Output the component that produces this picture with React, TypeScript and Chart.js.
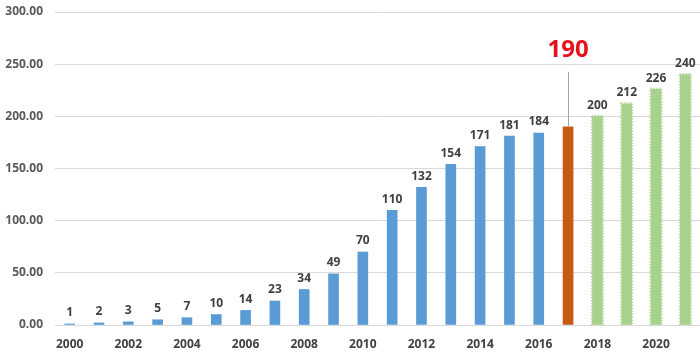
import React, { useEffect, useRef } from "react";
import { Chart, registerables } from "chart.js";

Chart.register(...registerables);

const years = ["2000","2001","2002","2003","2004","2005","2006","2007","2008","2009","2010","2011","2012","2013","2014","2015","2016","2017","2018","2019","2020","2021"];
const values = [1,2,3,5,7,10,14,23,34,49,70,110,132,154,171,181,184,190,200,212,226,240];
const highlightIndex = 17;
const forecastStart = 18;

const BLUE = "#5b9bd5";
const ORANGE = "#c55a11";
const GREEN = "#a9d18e";
const FONT = "'Open Sans', 'Noto Sans', sans-serif";

export default function App() {
  const ref = useRef<HTMLCanvasElement | null>(null);
  useEffect(() => {
    document.body.style.margin = "0";
    const colors = values.map((_, i) => (i < highlightIndex ? BLUE : i === highlightIndex ? ORANGE : GREEN));
    const labelPlugin = {
      id: "labels",
      afterDatasetsDraw(chart: any) {
        const ctx = chart.ctx;
        const meta = chart.getDatasetMeta(0);
        ctx.save();
        meta.data.forEach((bar: any, i: number) => {
          const x = bar.x;
          const y = bar.y;
          if (i >= forecastStart) {
            const w = bar.width;
            ctx.strokeStyle = "#b5d99c";
            ctx.lineWidth = 1.5;
            ctx.setLineDash([1.5, 1.5]);
            ctx.strokeRect(x - w / 2 - 0.75, y - 0.75, w + 1.5, bar.base - y + 0.75);
            ctx.setLineDash([]);
          }
          if (i === highlightIndex) {
            ctx.strokeStyle = "#a6a6a6";
            ctx.lineWidth = 1;
            ctx.beginPath();
            ctx.moveTo(Math.round(x) + 0.5, y);
            ctx.lineTo(Math.round(x) + 0.5, y - 55);
            ctx.stroke();
            ctx.fillStyle = "#e8101a";
            ctx.font = `bold 24px ${FONT}`;
            ctx.textAlign = "center";
            ctx.textBaseline = "middle";
            ctx.fillText(String(values[i]), x, y - 77);
          } else {
            ctx.fillStyle = "#404040";
            ctx.font = `bold 12px ${FONT}`;
            ctx.textAlign = "center";
            ctx.textBaseline = "bottom";
            ctx.fillText(String(values[i]), x, y - 5);
          }
        });
        ctx.restore();
      },
    };
    const chart = new Chart(ref.current as HTMLCanvasElement, {
      type: "bar",
      data: {
        labels: years,
        datasets: [
          {
            data: values,
            backgroundColor: colors,
            barThickness: 10,
          },
        ],
      },
      options: {
        animation: false,
        responsive: false,
        maintainAspectRatio: false,
        layout: { padding: { top: 12, right: 0, left: 0, bottom: 0 } },
        plugins: { legend: { display: false }, tooltip: { enabled: false } },
        scales: {
          x: {
            grid: { display: false },
            border: { display: false },
            ticks: {
              autoSkip: false,
              maxRotation: 0,
              padding: 4,
              color: "#404040",
              font: { family: FONT, size: 12, weight: "bold" },
              callback: (_v: any, i: number) => (i % 2 === 0 ? years[i] : ""),
            },
            afterFit: (s: any) => { s.height = 26; s.paddingLeft = 0; s.paddingRight = 0; },
          },
          y: {
            min: 0,
            max: 300,
            grid: { color: "#d9d9d9", drawTicks: false },
            border: { display: false },
            ticks: {
              stepSize: 50,
              padding: 12,
              color: "#595959",
              font: { family: FONT, size: 12, weight: "bold" },
              callback: (v: any) => Number(v).toFixed(2),
            },
            afterFit: (s: any) => { s.width = 55; s.paddingTop = 0; s.paddingBottom = 0; },
          },
        },
      },
      plugins: [labelPlugin],
    });
    return () => chart.destroy();
  }, []);
  return (
    <div style={{ width: 700, height: 351, background: "#fff" }}>
      <canvas ref={ref} width={700} height={351} style={{ display: "block" }} />
    </div>
  );
}
